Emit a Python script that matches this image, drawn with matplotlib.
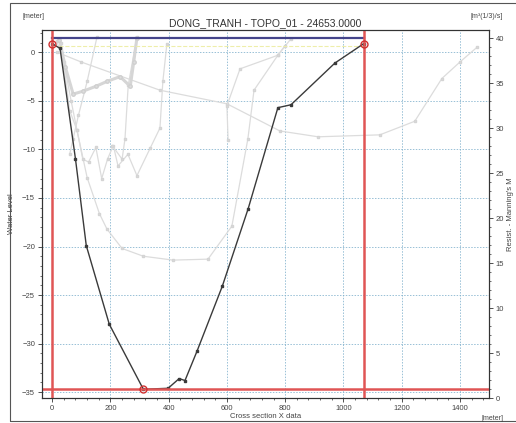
import matplotlib
matplotlib.use("Agg")
import matplotlib.pyplot as plt
from matplotlib.ticker import MultipleLocator
from matplotlib.patches import Rectangle

plt.rcParams["font.family"] = ["Liberation Sans", "DejaVu Sans"]

# main cross section (chainage m, bed level m)
sec_x = [0, 27, 80, 117, 196, 313, 398, 436, 456, 497, 584, 673, 775, 820, 971, 1070]
sec_z = [0.9, 0.4, -11.0, -19.9, -28.0, -34.7, -34.6, -33.6, -33.8, -30.8, -24.1, -16.1, -5.7, -5.4, -1.1, 0.9]

# neighbouring sections drawn in the background
bg_sections = [
    ([15, 40, 65, 85, 120, 162, 188, 240, 313, 415, 535, 617, 672, 693, 775, 820],
     [1.2, -1.0, -5.0, -8.0, -12.9, -16.6, -18.2, -20.2, -21.0, -21.4, -21.3, -17.9, -8.9, -3.9, -0.3, 1.4]),
    ([17, 100, 370, 600, 782, 913, 1125, 1245, 1338, 1400, 1458],
     [0.0, -1.0, -3.9, -5.3, -8.1, -8.7, -8.5, -7.1, -2.7, -1.0, 0.5]),
    ([30, 60, 85, 105, 125, 150, 170, 190, 210, 226, 260, 291, 336, 370, 380, 394],
     [1.0, -6.0, -8.0, -11.0, -11.3, -9.8, -13.0, -11.0, -9.6, -11.7, -10.5, -12.7, -9.9, -7.8, -3.0, 0.9]),
    ([154, 120, 90, 72, 60],
     [1.6, -3.0, -6.5, -8.9, -10.5]),
    ([291, 261, 250, 240, 206],
     [1.6, -3.4, -8.9, -11.0, -9.6]),
    ([604, 600, 645, 775, 800],
     [-9.0, -5.5, -1.7, -0.3, 0.7]),
]
wiggle_x = [25, 45, 72, 106, 150, 188, 233, 268, 280, 291]
wiggle_z = [1.3, -1.5, -4.3, -4.0, -3.5, -3.0, -2.5, -3.5, -1.0, 1.5]

water_level = 1.45
marker_x = 1070
bed_level = -34.7

fig = plt.figure(figsize=(5.16, 4.23), dpi=100)
ax = fig.add_axes([0.0814, 0.0591, 0.8663, 0.8700])
ax2 = ax.twinx()

for bx, bz in bg_sections:
    ax.plot(bx, bz, color="#dcdcdc", lw=0.9, marker="s", ms=2.0, mec="#d4d4d4", mfc="#e0e0e0", zorder=2)
ax.plot(wiggle_x, wiggle_z, color="#d6d6d6", lw=2.2, marker="o", ms=2.5, mec="#d0d0d0", mfc="#dddddd", zorder=2)

ax.plot(sec_x, sec_z, color="#3a3a3a", lw=1.0, marker="s", ms=2.0, mfc="#3a3a3a", zorder=5)

# water level and limits
ax.plot([0, marker_x], [water_level, water_level], color="#44448a", lw=1.6, zorder=6)
ax.plot([25, marker_x], [0.6, 0.6], color="#eeeeaa", lw=0.8, ls="--", zorder=4)
ax.axvline(0, color="#e05555", lw=1.8, zorder=7)
ax.axvline(marker_x, color="#e05555", lw=1.8, zorder=7)
ax.axhline(bed_level, color="#e05555", lw=1.8, zorder=7)
ax.plot([0, 313, marker_x], [0.9, -34.7, 0.9], ls="none", marker="o", ms=5,
        mfc="none", mec="#d03030", mew=1.0, zorder=8)

ax.set_xlim(-35, 1500)
ax.set_ylim(-35.6, 2.3)
ax2.set_ylim(0, 40.9)

ax.xaxis.set_major_locator(MultipleLocator(200))
ax.xaxis.set_minor_locator(MultipleLocator(40))
ax.yaxis.set_major_locator(MultipleLocator(5))
ax.yaxis.set_minor_locator(MultipleLocator(1))
ax2.yaxis.set_major_locator(MultipleLocator(5))
ax2.yaxis.set_minor_locator(MultipleLocator(1))

ax.grid(True, which="major", color="#7fb0cc", ls=(0, (1.5, 1.5)), lw=0.7, alpha=0.8)
ax.set_axisbelow(True)

for a in (ax, ax2):
    a.tick_params(which="both", direction="out", labelsize=5.5, colors="#333333", labelcolor="#444444")
    a.tick_params(which="major", length=3, width=0.6, pad=2)
    a.tick_params(which="minor", length=1.5, width=0.5)
    for sp in a.spines.values():
        sp.set_color("#333333")
        sp.set_linewidth(0.8)

ax.set_title("DONG_TRANH - TOPO_01 - 24653.0000", fontsize=7.5, color="#333333", pad=3)
ax.set_ylabel("Water Level", fontsize=5.5, color="#444444", labelpad=5)
ax2.set_ylabel("Resist. - Manning's M", fontsize=5.5, color="#444444", labelpad=2)
ax.set_xlabel("Cross section X data", fontsize=5.5, color="#444444", labelpad=1)

fig.text(0.043, 0.958, "[meter]", fontsize=5, color="#444444", ha="left")
fig.text(0.975, 0.958, "[m\u00b3(1/3)/s]", fontsize=5, color="#444444", ha="right")
fig.text(0.975, 0.008, "[meter]", fontsize=5, color="#444444", ha="right")

fig.patches.append(Rectangle((10 / 516, 2 / 423), 1.0, 418 / 423, transform=fig.transFigure,
                             fill=False, ec="#555555", lw=0.8))

fig.savefig("out.png", dpi=100)
